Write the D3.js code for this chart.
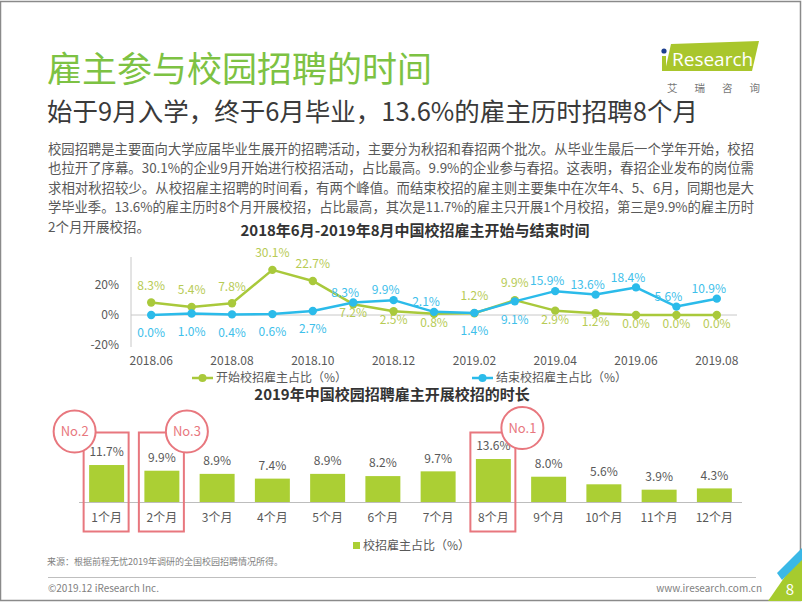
<!DOCTYPE html>
<html><head><meta charset="utf-8">
<script src="https://cdn.jsdelivr.net/npm/d3@7/dist/d3.min.js"></script>
<style>
html,body{margin:0;padding:0;background:#fff;}
svg{display:block;font-family:"Noto Sans CJK SC","Noto Sans",sans-serif;}
</style></head>
<body><svg id="c" width="802" height="602"></svg>
<script>
// ---------- data ----------
const months = ["2018.06","2018.07","2018.08","2018.09","2018.10","2018.11","2018.12","2019.01","2019.02","2019.03","2019.04","2019.05","2019.06","2019.07","2019.08"];
const monthTicks = ["2018.06","2018.08","2018.10","2018.12","2019.02","2019.04","2019.06","2019.08"];
const startShare = [8.3,5.4,7.8,30.1,22.7,7.2,2.5,0.8,1.2,9.9,2.9,1.2,0.0,0.0,0.0];
const endShare   = [0.0,1.0,0.4,0.6,2.7,8.3,9.9,2.1,1.4,9.1,15.9,13.6,18.4,5.6,10.9];
const startLabelSide = ["a","a","a","a","a","b","b","b","a","a","b","b","b","b","b"];
const endLabelSide   = ["b","b","b","b","b","a","a","a","b","b","a","a","a","a","a"];
const yTicks = [-20,0,20];
const durations = ["1个月","2个月","3个月","4个月","5个月","6个月","7个月","8个月","9个月","10个月","11个月","12个月"];
const durationShare = [11.7,9.9,8.9,7.4,8.9,8.2,9.7,13.6,8.0,5.6,3.9,4.3];
const highlights = [{cat:"1个月",rank:"No.2",side:"left"},{cat:"2个月",rank:"No.3",side:"right"},{cat:"8个月",rank:"No.1",side:"right"}];
const paragraph = [
"校园招聘是主要面向大学应届毕业生展开的招聘活动，主要分为秋招和春招两个批次。从毕业生最后一个学年开始，校招",
"也拉开了序幕。30.1%的企业9月开始进行校招活动，占比最高。9.9%的企业参与春招。这表明，春招企业发布的岗位需",
"求相对秋招较少。从校招雇主招聘的时间看，有两个峰值。而结束校招的雇主则主要集中在次年4、5、6月，同期也是大",
"学毕业季。13.6%的雇主历时8个月开展校招，占比最高，其次是11.7%的雇主只开展1个月校招，第三是9.9%的雇主历时",
"2个月开展校招。"
];

// ---------- colors ----------
const GREEN="#A9C93B", GREEN_T="#B7CB55", BLUE="#2BBBEA", BLUE_T="#3EC0EA", BAR="#ABCF34", RED="#E8777E", GRAY="#595959";

const svg = d3.select("#c");

// page border
svg.append("rect").attr("x",0.5).attr("y",1.5).attr("width",800).attr("height",599).attr("fill","none").attr("stroke","#8a8a8a").attr("stroke-width",1.5);

// title & subtitle
svg.append("text").attr("x",47).attr("y",82).attr("font-size",35).attr("fill","#7DC243").text("雇主参与校园招聘的时间");
svg.append("text").attr("x",47).attr("y",121).attr("font-size",25.5).attr("fill","#3a3a3a").text("始于9月入学，终于6月毕业，13.6%的雇主历时招聘8个月");

// logo
const lg = svg.append("g");
lg.append("polygon").attr("points","671,44 759,41 752,71 665,71").attr("fill","#A9C62C");
lg.append("circle").attr("cx",664).attr("cy",51).attr("r",2.6).attr("fill","#1D3F8F");
lg.append("rect").attr("x",662).attr("y",56).attr("width",4).attr("height",15).attr("fill","#A9C62C");
lg.append("text").attr("x",672).attr("y",66).attr("font-size",19).attr("fill","#fff").attr("font-family","Open Sans, sans-serif").text("Research");
lg.append("text").attr("x",667).attr("y",92).attr("font-size",10.5).attr("fill","#777").attr("letter-spacing","17px").text("艾瑞咨询");

// paragraph
paragraph.forEach((t,i)=>{
  const el = svg.append("text").attr("x",48).attr("y",149+i*19.5).attr("dy","0.35em").attr("font-size",13.5).attr("fill",GRAY).text(t);
  if(i<4) el.attr("textLength",706).attr("lengthAdjust","spacingAndGlyphs");
});

// ---------- line chart ----------
svg.append("text").attr("x",415).attr("y",231).attr("dy","0.35em").attr("text-anchor","middle").attr("font-size",15).attr("font-weight","bold").attr("fill","#333").text("2018年6月-2019年8月中国校招雇主开始与结束时间");

const x = d3.scalePoint().domain(months).range([131,737]).padding(0.5);
const y = d3.scaleLinear().domain([-20,40]).range([345,255]);

const gl = svg.append("g");
gl.append("line").attr("x1",131).attr("x2",131).attr("y1",257).attr("y2",347).attr("stroke","#c8c8c8");
gl.append("line").attr("x1",131).attr("x2",737).attr("y1",y(0)).attr("y2",y(0)).attr("stroke","#c8c8c8");
gl.selectAll(".yt").data(yTicks).join("text").attr("x",119).attr("y",d=>y(d)).attr("dy","0.35em").attr("text-anchor","end").attr("font-size",12).attr("fill",GRAY).text(d=>d+"%");
gl.selectAll(".xt").data(monthTicks).join("text").attr("x",d=>x(d)).attr("y",361).attr("dy","0.35em").attr("text-anchor","middle").attr("font-size",12).attr("fill",GRAY).text(d=>d);

const line = d3.line().x((d,i)=>x(months[i])).y(d=>y(d));
function series(vals, color, tcolor, sides, offA, offB, dxA){
  gl.append("path").attr("d",line(vals)).attr("fill","none").attr("stroke",color).attr("stroke-width",2.5).attr("stroke-linejoin","round");
  gl.selectAll(null).data(vals).join("circle").attr("cx",(d,i)=>x(months[i])).attr("cy",d=>y(d)).attr("r",4.2).attr("fill",color);
  gl.selectAll(null).data(vals).join("text")
    .attr("x",(d,i)=>x(months[i]) + (sides[i]==="a"?dxA:0))
    .attr("y",(d,i)=>y(d)+(sides[i]==="a"?offA:offB)).attr("dy","0.35em")
    .attr("text-anchor","middle").attr("font-size",12).attr("fill",tcolor).text(d=>d.toFixed(1)+"%");
}
series(startShare, GREEN, GREEN_T, startLabelSide, -17, 9, 0);
series(endShare, BLUE, BLUE_T, endLabelSide, -10, 18, -8);

// legend line chart
function lineLegend(x0, color, label){
  gl.append("line").attr("x1",x0).attr("x2",x0+21).attr("y1",378).attr("y2",378).attr("stroke",color).attr("stroke-width",2.5);
  gl.append("circle").attr("cx",x0+10.5).attr("cy",378).attr("r",4).attr("fill",color);
  gl.append("text").attr("x",x0+24).attr("y",378).attr("dy","0.35em").attr("font-size",12).attr("fill",GRAY).text(label);
}
lineLegend(192, GREEN, "开始校招雇主占比（%）");
lineLegend(472, BLUE, "结束校招雇主占比（%）");

// ---------- bar chart ----------
svg.append("text").attr("x",392).attr("y",395).attr("dy","0.35em").attr("text-anchor","middle").attr("font-size",15).attr("font-weight","bold").attr("fill","#333").text("2019年中国校园招聘雇主开展校招的时长");

const xb = d3.scaleBand().domain(durations).range([79,742]).paddingInner(0.367).paddingOuter(0.1835);
const yb = d3.scaleLinear().domain([0,20]).range([502,438.8]);
const gb = svg.append("g");
gb.selectAll("rect.bar").data(durationShare).join("rect").attr("class","bar")
  .attr("x",(d,i)=>xb(durations[i])).attr("width",xb.bandwidth())
  .attr("y",d=>yb(d)).attr("height",d=>yb(0)-yb(d)).attr("fill",BAR);
gb.append("line").attr("x1",79).attr("x2",742).attr("y1",502.5).attr("y2",502.5).attr("stroke","#bdbdbd");
gb.selectAll("text.v").data(durationShare).join("text").attr("class","v")
  .attr("x",(d,i)=>xb(durations[i])+xb.bandwidth()/2).attr("y",d=>yb(d)-13).attr("dy","0.35em")
  .attr("text-anchor","middle").attr("font-size",12).attr("fill",GRAY).text(d=>d.toFixed(1)+"%");
gb.selectAll("text.c").data(durations).join("text").attr("class","c")
  .attr("x",d=>xb(d)+xb.bandwidth()/2).attr("y",518).attr("dy","0.35em")
  .attr("text-anchor","middle").attr("font-size",12).attr("fill",GRAY).text(d=>d);

// highlight frames
highlights.forEach(h=>{
  const cx = xb(h.cat)+xb.bandwidth()/2;
  const l = cx-23, r = cx+22, top = 432.5, bot = 531.5;
  gb.append("rect").attr("x",l).attr("y",top).attr("width",r-l).attr("height",bot-top).attr("fill","none").attr("stroke",RED).attr("stroke-width",2);
  const ccx = h.side==="left" ? l-9 : (h.rank==="No.1" ? r+7 : r+3);
  const ccy = h.rank==="No.1" ? 428 : 431.5;
  gb.append("circle").attr("cx",ccx).attr("cy",ccy).attr("r",21).attr("fill","#fff").attr("stroke",RED).attr("stroke-width",2);
  gb.append("text").attr("x",ccx).attr("y",ccy).attr("dy","0.35em").attr("text-anchor","middle").attr("font-size",13).attr("fill",RED).text(h.rank);
});

// bar legend
gb.append("rect").attr("x",353).attr("y",542).attr("width",7).attr("height",7).attr("fill",BAR);
gb.append("text").attr("x",363).attr("y",546).attr("dy","0.35em").attr("font-size",12).attr("fill",GRAY).text("校招雇主占比（%）");

// ---------- footer ----------
svg.append("text").attr("x",47).attr("y",562).attr("dy","0.35em").attr("font-size",9).attr("fill","#7f7f7f").text("来源：根据前程无忧2019年调研的全国校园招聘情况所得。");
svg.append("line").attr("x1",48).attr("x2",756).attr("y1",577.5).attr("y2",577.5).attr("stroke","#bfbfbf");
svg.append("text").attr("x",48).attr("y",588).attr("dy","0.35em").attr("font-size",10).attr("fill","#7f7f7f").text("©2019.12 iResearch Inc.");
svg.append("text").attr("x",762).attr("y",588).attr("dy","0.35em").attr("text-anchor","end").attr("font-size",10).attr("fill","#7f7f7f").text("www.iresearch.com.cn");
// page corner
svg.append("polygon").attr("points","768,601 802,601 802,552").attr("fill","#A6CB2E");
svg.append("polygon").attr("points","782,580 802,560 802,548 777,573").attr("fill","#3AB8E6");
svg.append("text").attr("x",790).attr("y",590).attr("dy","0.35em").attr("text-anchor","middle").attr("font-size",15).attr("fill","#fff").text("8");
</script></body></html>
